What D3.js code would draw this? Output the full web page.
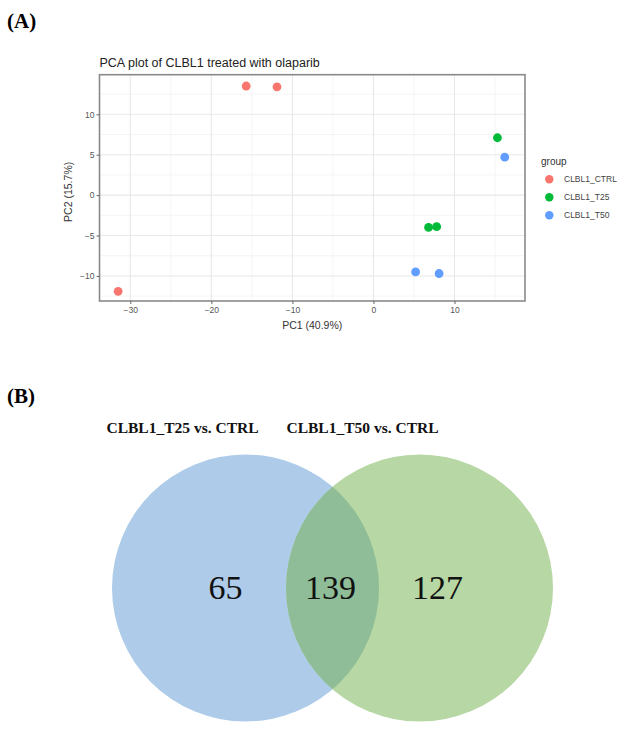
<!DOCTYPE html>
<html>
<head>
<meta charset="utf-8">
<script src="https://cdn.jsdelivr.net/npm/d3@7"></script>
<style>
	body { margin: 0; background: #fff; }
	svg { display: block; }
</style>
</head>
<body>
<div id="figure"></div>
<script>
// données PCA
var groupes = ["CLBL1_CTRL", "CLBL1_T25", "CLBL1_T50"];
var couleurs = ["#F8766D", "#00BA38", "#619CFF"];
var pc1 = [-31.5, -15.7, -11.9, 15.3, 6.8, 7.8, 16.2, 5.2, 8.1];
var pc2 = [-11.9, 13.5, 13.4, 7.1, -4.0, -3.9, 4.7, -9.5, -9.7];
var groupeDuPoint = ["CLBL1_CTRL", "CLBL1_CTRL", "CLBL1_CTRL", "CLBL1_T25", "CLBL1_T25", "CLBL1_T25", "CLBL1_T50", "CLBL1_T50", "CLBL1_T50"];
var ticksX = [-30, -20, -10, 0, 10];
var ticksY = [-10, -5, 0, 5, 10];
var mineursX = [-25, -15, -5, 5, 15];
var mineursY = [-12.5, -7.5, -2.5, 2.5, 7.5, 12.5];

// données Venn
var ensembles = ["CLBL1_T25 vs. CTRL", "CLBL1_T50 vs. CTRL"];
var comptes = [65, 139, 127];

var width = 630,
	height = 731;

var svg = d3.select("#figure").append("svg")
	.attr("width", width)
	.attr("height", height);

// -----PANNEAU A-----
svg.append("text")
	.attr("x", 7).attr("y", 28)
	.attr("font-family", "Liberation Serif, serif")
	.attr("font-weight", "bold")
	.attr("font-size", 21)
	.text("(A)");

var panel = { left: 99.5, right: 525, top: 74.7, bottom: 301 };

var x = d3.scaleLinear().domain([-33.8, 18.7]).range([panel.left, panel.right]);
var y = d3.scaleLinear().domain([-13.1, 14.9]).range([panel.bottom, panel.top]);
var couleur = d3.scaleOrdinal().domain(groupes).range(couleurs);

var pca = svg.append("g").attr("font-family", "Liberation Sans, Arial, sans-serif");

// grille mineure puis majeure
pca.selectAll("line.minx").data(mineursX).enter().append("line")
	.attr("x1", function (d) { return x(d); }).attr("x2", function (d) { return x(d); })
	.attr("y1", panel.top).attr("y2", panel.bottom)
	.attr("stroke", "#f2f2f2").attr("stroke-width", 0.8);
pca.selectAll("line.miny").data(mineursY).enter().append("line")
	.attr("y1", function (d) { return y(d); }).attr("y2", function (d) { return y(d); })
	.attr("x1", panel.left).attr("x2", panel.right)
	.attr("stroke", "#f2f2f2").attr("stroke-width", 0.8);
pca.selectAll("line.majx").data(ticksX).enter().append("line")
	.attr("x1", function (d) { return x(d); }).attr("x2", function (d) { return x(d); })
	.attr("y1", panel.top).attr("y2", panel.bottom)
	.attr("stroke", "#e8e8e8").attr("stroke-width", 1.1);
pca.selectAll("line.majy").data(ticksY).enter().append("line")
	.attr("y1", function (d) { return y(d); }).attr("y2", function (d) { return y(d); })
	.attr("x1", panel.left).attr("x2", panel.right)
	.attr("stroke", "#e8e8e8").attr("stroke-width", 1.1);

// bordure
pca.append("rect")
	.attr("x", panel.left).attr("y", panel.top)
	.attr("width", panel.right - panel.left)
	.attr("height", panel.bottom - panel.top)
	.attr("fill", "none")
	.attr("stroke", "#8a8a8a")
	.attr("stroke-width", 1.6);

// axes
var axeX = pca.append("g")
	.attr("transform", "translate(0," + panel.bottom + ")")
	.call(d3.axisBottom(x).tickValues(ticksX).tickSize(3).tickPadding(3));
var axeY = pca.append("g")
	.attr("transform", "translate(" + panel.left + ",0)")
	.call(d3.axisLeft(y).tickValues(ticksY).tickSize(3).tickPadding(2));
[axeX, axeY].forEach(function (a) {
	a.select(".domain").remove();
	a.selectAll(".tick line").attr("stroke", "#666");
	a.selectAll(".tick text")
		.attr("fill", "#555")
		.attr("font-size", 8.5)
		.attr("font-family", "Liberation Sans, Arial, sans-serif");
});

// points
pca.selectAll("circle.pt").data(pc1).enter().append("circle")
	.attr("class", "pt")
	.attr("cx", function (d) { return x(d); })
	.attr("cy", function (d, i) { return y(pc2[i]); })
	.attr("r", 4.4)
	.attr("fill", function (d, i) { return couleur(groupeDuPoint[i]); });

// titres
pca.append("text")
	.attr("x", panel.left).attr("y", 67)
	.attr("font-size", 12.5)
	.attr("fill", "#222")
	.text("PCA plot of CLBL1 treated with olaparib");
pca.append("text")
	.attr("x", (panel.left + panel.right) / 2).attr("y", 329)
	.attr("text-anchor", "middle")
	.attr("font-size", 10.5)
	.attr("fill", "#333")
	.text("PC1 (40.9%)");
pca.append("text")
	.attr("transform", "translate(72," + ((panel.top + panel.bottom) / 2 + 4) + ") rotate(-90)")
	.attr("text-anchor", "middle")
	.attr("font-size", 10.5)
	.attr("fill", "#333")
	.text("PC2 (15.7%)");

// légende
var legende = pca.append("g").attr("transform", "translate(540,0)");
legende.append("text")
	.attr("x", 1).attr("y", 165)
	.attr("font-size", 10)
	.attr("fill", "#333")
	.text("group");
var items = legende.selectAll("g.item").data(groupes).enter().append("g")
	.attr("transform", function (d, i) { return "translate(0," + (179.3 + i * 18) + ")"; });
items.append("circle")
	.attr("cx", 9.3).attr("cy", 0).attr("r", 4.2)
	.attr("fill", function (d) { return couleur(d); });
items.append("text")
	.attr("x", 24).attr("y", 3)
	.attr("font-size", 8.5)
	.attr("fill", "#444")
	.text(function (d) { return d; });

// -----PANNEAU B-----
svg.append("text")
	.attr("x", 7).attr("y", 403)
	.attr("font-family", "Liberation Serif, serif")
	.attr("font-weight", "bold")
	.attr("font-size", 21)
	.text("(B)");

var venn = svg.append("g").attr("font-family", "Liberation Serif, serif");

// position des ensembles
var cx = d3.scalePoint().domain(ensembles).range([245.5, 419.5]);
var rayon = 133.5,
	cy = 588;

var defs = svg.append("defs");
defs.append("clipPath").attr("id", "clipGauche")
	.append("circle")
	.attr("cx", cx(ensembles[0])).attr("cy", cy).attr("r", rayon);

venn.append("circle")
	.attr("cx", cx(ensembles[0])).attr("cy", cy).attr("r", rayon)
	.attr("fill", "#aecce9");
venn.append("circle")
	.attr("cx", cx(ensembles[1])).attr("cy", cy).attr("r", rayon)
	.attr("fill", "#b7d7a4");
venn.append("circle")
	.attr("clip-path", "url(#clipGauche)")
	.attr("cx", cx(ensembles[1])).attr("cy", cy).attr("r", rayon)
	.attr("fill", "#8fbd97");

// titres des ensembles
venn.selectAll("text.titre").data(ensembles).enter().append("text")
	.attr("x", function (d, i) { return i === 0 ? 182.5 : 362.5; })
	.attr("y", 433)
	.attr("text-anchor", "middle")
	.attr("font-weight", "bold")
	.attr("font-size", 15.5)
	.attr("fill", "#111")
	.text(function (d) { return d; });

// comptes : gauche seul, intersection, droite seul
var positions = [
	cx(ensembles[0]) - 20,
	(cx(ensembles[0]) + cx(ensembles[1])) / 2 - 2,
	cx(ensembles[1]) + 18
];
venn.selectAll("text.compte").data(comptes).enter().append("text")
	.attr("x", function (d, i) { return positions[i]; })
	.attr("y", 599)
	.attr("text-anchor", "middle")
	.attr("font-size", 34)
	.attr("fill", "#111")
	.text(function (d) { return d; });
</script>
</body>
</html>
